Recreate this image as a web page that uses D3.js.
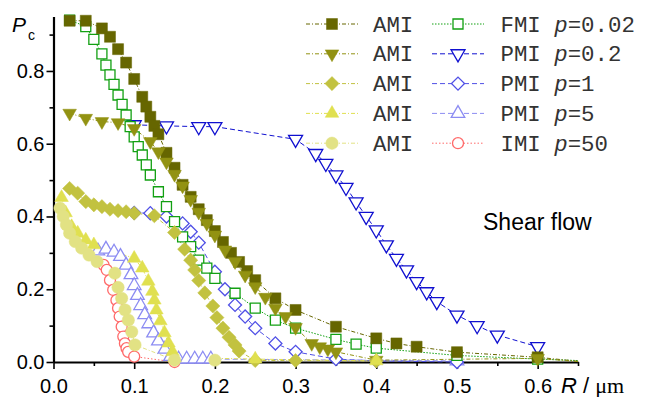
<!DOCTYPE html>
<html>
<head>
<meta charset="utf-8">
<title>Shear flow Pc vs R</title>
<script src="https://d3js.org/d3.v7.min.js"></script>
<style>
  body { margin: 0; background: #fff; }
  #chart { display: block; }
  .tick text { font-family: "Liberation Sans", Arial, sans-serif; font-size: 20px; fill: #000; }
</style>
</head>
<body>
<svg id="chart"></svg>
<script>
// data (R in um, Pc)
const amiSqR = [0.02, 0.04, 0.06, 0.07, 0.08, 0.09, 0.1, 0.11, 0.115, 0.12, 0.125, 0.13, 0.14, 0.15, 0.16, 0.17, 0.18, 0.19, 0.2, 0.21, 0.22, 0.23, 0.24, 0.25, 0.275, 0.3, 0.35, 0.4, 0.425, 0.45, 0.5, 0.6, 0.65];
const amiSqP = [0.938, 0.938, 0.917, 0.894, 0.86, 0.823, 0.778, 0.729, 0.702, 0.674, 0.649, 0.626, 0.575, 0.534, 0.487, 0.454, 0.42, 0.39, 0.36, 0.33, 0.3, 0.275, 0.25, 0.225, 0.175, 0.143, 0.097, 0.065, 0.051, 0.042, 0.027, 0.013, 0.002];

const amiDnR = [0.02, 0.04, 0.06, 0.08, 0.1, 0.12, 0.13, 0.14, 0.15, 0.16, 0.17, 0.18, 0.19, 0.2, 0.2125, 0.225, 0.2375, 0.25, 0.2625, 0.275, 0.2875, 0.3, 0.32, 0.33, 0.34, 0.35, 0.4, 0.6, 0.65];
const amiDnP = [0.684, 0.67, 0.661, 0.658, 0.642, 0.606, 0.578, 0.55, 0.516, 0.484, 0.447, 0.412, 0.381, 0.349, 0.308, 0.276, 0.239, 0.207, 0.178, 0.148, 0.125, 0.095, 0.051, 0.042, 0.036, 0.028, 0.005, 0.01, 0.001];

const amiDiR = [0.02, 0.03, 0.04, 0.05, 0.06, 0.07, 0.08, 0.09, 0.1, 0.125, 0.15, 0.1625, 0.17, 0.175, 0.18, 0.1875, 0.1975, 0.2025, 0.21, 0.2175, 0.225, 0.23, 0.25, 0.3, 0.4];
const amiDiP = [0.477, 0.464, 0.441, 0.432, 0.427, 0.42, 0.416, 0.413, 0.409, 0.402, 0.356, 0.31, 0.28, 0.253, 0.224, 0.19, 0.154, 0.122, 0.093, 0.068, 0.047, 0.03, 0.004, 0.004, 0.003];

const amiUpR = [0.01, 0.015, 0.0225, 0.03, 0.04, 0.05, 0.1, 0.11, 0.1175, 0.1225, 0.125, 0.1275, 0.1325, 0.1375, 0.1425, 0.1475, 0.15, 0.25, 0.4];
const amiUpP = [0.452, 0.41, 0.372, 0.354, 0.335, 0.322, 0.285, 0.258, 0.222, 0.194, 0.17, 0.143, 0.113, 0.08, 0.052, 0.028, 0.012, 0.008, 0.003];

const amiCiR = [0.008, 0.012, 0.016, 0.02, 0.027, 0.035, 0.044, 0.054, 0.076, 0.08, 0.0845, 0.0886, 0.0927, 0.097, 0.101, 0.15, 0.2];
const amiCiP = [0.423, 0.4, 0.377, 0.354, 0.331, 0.313, 0.294, 0.276, 0.244, 0.205, 0.175, 0.143, 0.115, 0.083, 0.047, 0.005, 0.005];

const fmiR = [0.02, 0.04, 0.05, 0.06, 0.065, 0.07, 0.075, 0.08, 0.085, 0.09, 0.095, 0.1, 0.105, 0.11, 0.115, 0.12, 0.13, 0.14, 0.15, 0.16, 0.17, 0.18, 0.19, 0.2, 0.225, 0.25, 0.275, 0.3, 0.35, 0.375, 0.4, 0.5, 0.6, 0.65];
const fmiP = [0.94, 0.922, 0.887, 0.847, 0.816, 0.789, 0.763, 0.734, 0.708, 0.679, 0.647, 0.619, 0.592, 0.569, 0.542, 0.514, 0.468, 0.427, 0.386, 0.344, 0.317, 0.28, 0.258, 0.23, 0.189, 0.148, 0.115, 0.093, 0.062, 0.049, 0.038, 0.018, 0.008, 0.004];

const pmi02R = [0.1, 0.14, 0.18, 0.2, 0.3, 0.325, 0.3375, 0.35, 0.3625, 0.375, 0.3875, 0.4, 0.4125, 0.425, 0.4375, 0.45, 0.4625, 0.475, 0.5, 0.525, 0.55, 0.6];
const pmi02P = [0.652, 0.649, 0.647, 0.647, 0.612, 0.573, 0.546, 0.514, 0.48, 0.44, 0.4, 0.363, 0.322, 0.285, 0.253, 0.221, 0.193, 0.166, 0.129, 0.1, 0.074, 0.042];

const pmi1R = [0.1, 0.12, 0.14, 0.16, 0.17, 0.18, 0.2, 0.2125, 0.225, 0.2375, 0.25, 0.275, 0.3, 0.35, 0.4, 0.5];
const pmi1P = [0.41, 0.409, 0.4, 0.381, 0.358, 0.328, 0.248, 0.2, 0.157, 0.125, 0.093, 0.051, 0.028, 0.008, 0.003, 0.0];

const pmi5R = [0.055, 0.065, 0.075, 0.083, 0.09, 0.096, 0.1, 0.104, 0.108, 0.113, 0.118, 0.124, 0.13, 0.138, 0.145, 0.155, 0.165, 0.175, 0.185, 0.195, 0.5];
const pmi5P = [0.305, 0.31, 0.302, 0.29, 0.266, 0.24, 0.21, 0.183, 0.155, 0.13, 0.105, 0.08, 0.058, 0.035, 0.015, 0.008, 0.008, 0.008, 0.008, 0.008, 0.003];

const imiR = [0.062, 0.066, 0.07, 0.074, 0.078, 0.08, 0.082, 0.0845, 0.0865, 0.0885, 0.0905, 0.0925, 0.1, 0.15];
const imiP = [0.267, 0.253, 0.225, 0.198, 0.17, 0.148, 0.125, 0.097, 0.07, 0.051, 0.038, 0.028, 0.015, 0.0];

const xMajor = [0, 0.1, 0.2, 0.3, 0.4, 0.5, 0.6];
const xMinor = [0.05, 0.15, 0.25, 0.35, 0.45, 0.55, 0.65];
const yMajor = [0, 0.2, 0.4, 0.6, 0.8];
const yMinor = [0.1, 0.3, 0.5, 0.7, 0.9];

const legendNames = ["AMI", "AMI", "AMI", "AMI", "AMI", "FMI", "PMI", "PMI", "PMI", "IMI"];
const legendP = ["", "", "", "", "", "0.02", "0.2", "1", "5", "50"];

const width = 645, height = 397;
const svg = d3.select("#chart").attr("width", width).attr("height", height);

const x = d3.scaleLinear().domain([0, 0.65]).range([53.5, 578]);
const y = d3.scaleLinear().domain([0, 0.95]).range([362, 16.4]);

const dashAMI = "4,2,1,2";
const series = [
  { R: imiR, P: imiP, color: "#ff6a6a", sym: d3.symbolCircle, size: 95, rot: 0, open: true, dash: "1.5,2" },
  { R: pmi5R, P: pmi5P, color: "#8c8cf2", sym: d3.symbolTriangle, size: 80, rot: 0, open: true, dash: "5,3" },
  { R: pmi1R, P: pmi1P, color: "#5050e6", sym: d3.symbolSquare, size: 85, rot: 45, open: true, dash: "5,3" },
  { R: pmi02R, P: pmi02P, color: "#1010d0", sym: d3.symbolTriangle, size: 85, rot: 180, open: true, dash: "5,3" },
  { R: fmiR, P: fmiP, color: "#12a012", sym: d3.symbolSquare, size: 100, rot: 0, open: true, dash: "1.5,1.5" },
  { R: amiSqR, P: amiSqP, color: "#666600", sym: d3.symbolSquare, size: 121, rot: 0, open: false, dash: dashAMI },
  { R: amiDnR, P: amiDnP, color: "#929212", sym: d3.symbolTriangle, size: 80, rot: 180, open: false, dash: dashAMI },
  { R: amiDiR, P: amiDiP, color: "#c2c240", sym: d3.symbolSquare, size: 100, rot: 45, open: false, dash: dashAMI },
  { R: amiUpR, P: amiUpP, color: "#e0e050", sym: d3.symbolTriangle, size: 80, rot: 0, open: false, dash: dashAMI },
  { R: amiCiR, P: amiCiP, color: "#e2e284", sym: d3.symbolCircle, size: 120, rot: 0, open: false, dash: dashAMI }
];

// axes
svg.append("g").attr("transform", "translate(0,362)")
  .call(d3.axisBottom(x).tickValues(xMajor).tickFormat(d3.format(".1f")).tickSize(7).tickSizeOuter(0).tickPadding(10));
svg.append("g").attr("transform", "translate(0,362)")
  .call(d3.axisBottom(x).tickValues(xMinor).tickFormat("").tickSize(4).tickSizeOuter(0))
  .select(".domain").remove();
svg.append("g").attr("transform", "translate(53.5,0)")
  .call(d3.axisLeft(y).tickValues(yMajor).tickFormat(d3.format(".1f")).tickSize(7).tickSizeOuter(0).tickPadding(2));
svg.append("g").attr("transform", "translate(53.5,0)")
  .call(d3.axisLeft(y).tickValues(yMinor).tickFormat("").tickSize(4).tickSizeOuter(0))
  .select(".domain").remove();
svg.selectAll(".domain").attr("stroke", "#000").attr("stroke-width", 2.2);
svg.selectAll(".tick line").attr("stroke", "#000").attr("stroke-width", 1.6);

// lines
const line = d3.line().x(d => x(d[0])).y(d => y(d[1]));
series.forEach(s => {
  svg.append("path")
    .datum(s.R.map((r, i) => [r, s.P[i]]))
    .attr("d", line)
    .attr("fill", "none")
    .attr("stroke", s.color)
    .attr("stroke-width", 1)
    .attr("stroke-dasharray", s.dash);
});

// markers
function drawMarker(g, s, cx, cy) {
  g.append("path")
    .attr("d", d3.symbol().type(s.sym).size(s.size)())
    .attr("transform", `translate(${cx},${cy}) rotate(${s.rot})`)
    .attr("fill", s.open ? "#fff" : s.color)
    .attr("stroke", s.color)
    .attr("stroke-width", s.open ? 1.3 : 0.5);
}
series.forEach(s => {
  const g = svg.append("g");
  s.R.forEach((r, i) => {
    if (r > 0.62) return;
    drawMarker(g, s, x(r), y(s.P[i]));
  });
});

// legend: AMI column on the left, the rest on the right
const legendOrder = [5, 6, 7, 8, 9, 4, 3, 2, 1, 0];
legendOrder.forEach((si, k) => {
  const s = series[si];
  const col = k < 5 ? 0 : 1;
  const row = k % 5;
  const cy = 24 + row * 29.8;
  const x0 = col === 0 ? 306 : 432;
  const g = svg.append("g");
  g.append("line").attr("x1", x0).attr("x2", x0 + 52).attr("y1", cy).attr("y2", cy)
    .attr("stroke", s.color).attr("stroke-width", 1).attr("stroke-dasharray", s.dash);
  drawMarker(g, s, x0 + 26, cy);
  const t = svg.append("text")
    .attr("x", col === 0 ? 373 : 500.5)
    .attr("y", cy + 7.5)
    .attr("font-family", "'Liberation Mono', 'Courier New', monospace")
    .attr("font-size", 22.4)
    .attr("fill", "#333")
    .attr("xml:space", "preserve");
  t.append("tspan").text(legendNames[k] + (legendP[k] ? " " : ""));
  if (legendP[k]) {
    t.append("tspan").attr("font-style", "italic").text("p");
    t.append("tspan").text("=" + legendP[k]);
  }
});

// axis titles
const yt = svg.append("text").attr("x", 12).attr("y", 32)
  .attr("font-family", "'Liberation Sans', Arial, sans-serif").attr("font-size", 21);
yt.append("tspan").attr("font-style", "italic").text("P");
yt.append("tspan").attr("font-size", 14).attr("dx", 2).attr("dy", 8).text("c");

const xt = svg.append("text").attr("x", 561).attr("y", 393)
  .attr("font-family", "'Liberation Sans', Arial, sans-serif").attr("font-size", 22);
xt.append("tspan").attr("font-style", "italic").text("R");
xt.append("tspan").text(" / ");
xt.append("tspan").attr("font-family", "'Liberation Serif', serif").text("μm");

svg.append("text").attr("x", 483).attr("y", 230)
  .attr("font-family", "'Liberation Sans', Arial, sans-serif").attr("font-size", 23)
  .text("Shear flow");
</script>
</body>
</html>
